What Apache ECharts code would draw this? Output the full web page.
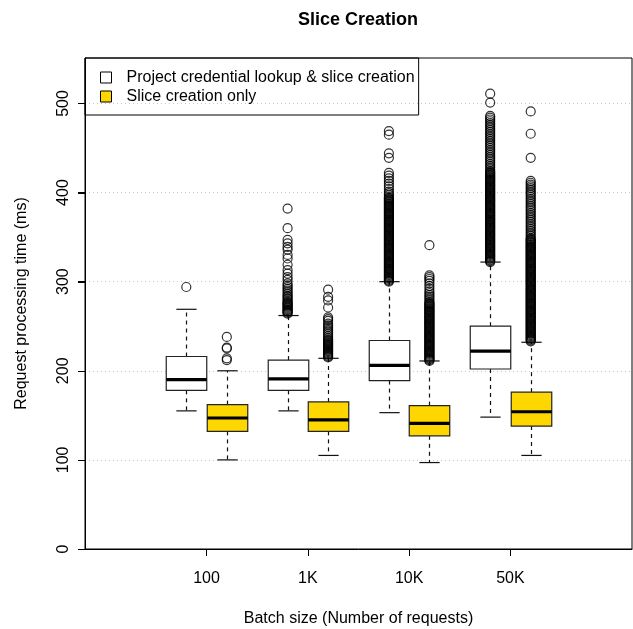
<!DOCTYPE html>
<html><head><meta charset="utf-8">
<script src="https://cdn.jsdelivr.net/npm/echarts@6/dist/echarts.min.js"></script>
<style>html,body{margin:0;padding:0;background:#fff}#c{width:633px;height:629px}</style>
</head><body><div id="c"></div><script>
// ---- data ----
const categories = ['100', '1K', '10K', '50K'];
const seriesNames = ['Project credential lookup & slice creation', 'Slice creation only'];
const yTicks = [0, 100, 200, 300, 400, 500];

// Project credential lookup & slice creation (white boxes)
const fullLow = [155, 155, 153, 148];
const fullQ1 = [178, 178, 189, 202];
const fullMedian = [190, 191, 206, 222];
const fullQ3 = [216, 212, 234, 250];
const fullHigh = [269, 262, 300, 322];

// Slice creation only (yellow boxes)
const sliceLow = [100, 105, 97, 105];
const sliceQ1 = [132, 132, 127, 138];
const sliceMedian = [147, 145, 141, 154];
const sliceQ3 = [162, 165, 161, 176];
const sliceHigh = [200, 214, 211, 232];

// outliers
const fullOut100 = [294];
const fullOut1K = [382,360,347,343,339,336,330,326,319,313,309,305,302,298,296,294,292,290,288,286,284,283,281,280,278,277,276,275,274,273,272,271,270,269,268,267,266,265,264];
const fullOut10K = [469,465,444,439,422,419,416,413,410,407,404,401,399,397,395,
394,393,392,391,390,389,388,387,386,385,384,383,382,381,380,379,378,377,376,375,374,373,372,371,370,
369,368,367,366,365,364,363,362,361,360,359,358,357,356,355,354,353,352,351,350,349,348,347,346,345,
344,343,342,341,340,339,338,337,336,335,334,333,332,331,330,329,328,327,326,325,324,323,322,321,320,
319,318,317,316,315,314,313,312,311,310,309,308,307,306,305,304,303,302,301,300];
const fullOut50K = [511,501,486,484,482,480,478,476,474,472,470,468,466,464,462,460,458,456,454,452,450,448,446,444,442,440,438,436,434,432,430,428,426,424,
423,422,421,420,419,418,417,416,415,414,413,412,411,410,409,408,407,406,405,404,403,402,401,400,
399,398,397,396,395,394,393,392,391,390,389,388,387,386,385,384,383,382,381,380,379,378,377,376,375,
374,373,372,371,370,369,368,367,366,365,364,363,362,361,360,359,358,357,356,355,354,353,352,351,350,
349,348,347,346,345,344,343,342,341,340,339,338,337,336,335,334,333,332,331,330,329,328,327,326,325,
324,323,322];
const sliceOut100 = [238, 226, 225, 214, 212];
const sliceOut1K = [291,283,279,271,260,258,256,253,251,249,247,245,243,241,239,237,235,234,233,232,231,230,229,228,227,226,225,224,223,222,221,220,219,218,217,216,215];
const sliceOut10K = [341,307,305,303,301,298,295,292,289,287,285,283,281,279,277,
276,275,274,273,272,271,270,269,268,267,266,265,264,263,262,261,260,259,258,257,256,255,254,253,252,
251,250,249,248,247,246,245,244,243,242,241,240,239,238,237,236,235,234,233,232,231,230,229,228,227,
226,225,224,223,222,221,220,219,218,217,216,215,214,213,212,211];
const sliceOut50K = [491,466,439,413,411,409,407,405,403,401,399,397,395,393,391,389,387,385,383,381,379,377,375,373,371,369,367,365,363,361,359,357,355,353,351,349,
348,347,346,345,344,343,342,341,340,339,338,337,336,335,334,333,332,331,330,329,328,327,326,325,
324,323,322,321,320,319,318,317,316,315,314,313,312,311,310,309,308,307,306,305,304,303,302,301,300,
299,298,297,296,295,294,293,292,291,290,289,288,287,286,285,284,283,282,281,280,279,278,277,276,275,
274,273,272,271,270,269,268,267,266,265,264,263,262,261,260,259,258,257,256,255,254,253,252,251,250,
249,248,247,246,245,244,243,242,241,240,239,238,237,236,235,234,233];

// ---- build ----
const FONT = '"Liberation Sans", Arial, Helvetica, sans-serif';
const X_MIN = -1.5, X_MAX = 12, Y_MAX = 551;
const groupCenter = i => 1.5 + 2.5 * i;
const tickPos = categories.map((c, i) => groupCenter(i));
const fullBoxes = categories.map((c, i) => [groupCenter(i) - 0.5, fullLow[i], fullQ1[i], fullMedian[i], fullQ3[i], fullHigh[i]]);
const sliceBoxes = categories.map((c, i) => [groupCenter(i) + 0.5, sliceLow[i], sliceQ1[i], sliceMedian[i], sliceQ3[i], sliceHigh[i]]);
const fullOut = [fullOut100, fullOut1K, fullOut10K, fullOut50K];
const sliceOut = [sliceOut100, sliceOut1K, sliceOut10K, sliceOut50K];
const outPts = [];
fullOut.forEach((arr, i) => arr.forEach(v => outPts.push([groupCenter(i) - 0.5, v])));
sliceOut.forEach((arr, i) => arr.forEach(v => outPts.push([groupCenter(i) + 0.5, v])));

function renderBox(params, api) {
  const x = api.value(0), lo = api.value(1), q1 = api.value(2), med = api.value(3), q3 = api.value(4), hi = api.value(5);
  const c = Math.round(api.coord([x, 0])[0]) + 0.5;
  const hw = (api.coord([x + 0.5, 0])[0] - api.coord([x - 0.5, 0])[0]) / 2;
  const y = v => api.coord([x, v])[1];
  const fill = api.visual('color');
  const dash = {stroke: '#111', lineWidth: 1.2, lineDash: [4, 4]};
  const solid = {stroke: '#111', lineWidth: 1.2};
  return {type: 'group', children: [
    {type: 'line', shape: {x1: c, y1: y(q3), x2: c, y2: y(hi)}, style: dash},
    {type: 'line', shape: {x1: c, y1: y(q1), x2: c, y2: y(lo)}, style: dash},
    {type: 'line', shape: {x1: c - hw / 2, y1: y(hi), x2: c + hw / 2, y2: y(hi)}, style: solid},
    {type: 'line', shape: {x1: c - hw / 2, y1: y(lo), x2: c + hw / 2, y2: y(lo)}, style: solid},
    {type: 'rect', shape: {x: c - hw, y: y(q3), width: 2 * hw, height: y(q1) - y(q3)}, style: {fill: fill, stroke: '#222', lineWidth: 1.2}},
    {type: 'line', shape: {x1: c - hw, y1: y(med), x2: c + hw, y2: y(med)}, style: {stroke: '#000', lineWidth: 3.2}}
  ]};
}

// y-axis tick marks (outside the left border), placed through the axis scale
function renderYTick(params, api) {
  const p = api.coord([api.value(0), api.value(1)]);
  const yy = Math.round(p[1]) + 0.5;
  return {type: 'line', shape: {x1: p[0] - 7, y1: yy, x2: p[0], y2: yy}, style: {stroke: '#000', lineWidth: 1}};
}

const chart = echarts.init(document.getElementById('c'), null, {renderer: 'canvas'});
chart.setOption({
  animation: false,
  backgroundColor: '#fff',
  textStyle: {fontFamily: FONT},
  title: {text: 'Slice Creation', left: 298, top: 11, padding: 0, textAlign: 'left',
    textStyle: {fontSize: 18, fontWeight: 'bold', color: '#000', fontFamily: FONT}},
  legend: {
    orient: 'vertical', left: 85, top: 58, padding: [10, 4, 9, 15], itemGap: 0,
    itemWidth: 11, itemHeight: 11, icon: 'rect', selectedMode: false,
    borderColor: '#000', borderWidth: 1, backgroundColor: 'transparent',
    textStyle: {fontSize: 16, color: '#000', lineHeight: 19, padding: [0, 0, 0, 10], fontFamily: FONT},
    data: [
      {name: seriesNames[0], itemStyle: {color: '#ffffff', borderColor: '#000', borderWidth: 1}},
      {name: seriesNames[1], itemStyle: {color: '#FFD700', borderColor: '#000', borderWidth: 1}}
    ]
  },
  grid: {left: 85, right: 1, top: 58, bottom: 80, show: true, borderColor: '#000', borderWidth: 1,
    backgroundColor: 'transparent', containLabel: false, outerBoundsMode: 'none'},
  xAxis: {
    type: 'value', min: X_MIN, max: X_MAX,
    splitLine: {show: false}, axisLine: {show: true, onZero: false, lineStyle: {color: '#000', width: 1}},
    axisTick: {show: true, inside: false, customValues: tickPos, length: 7, lineStyle: {color: '#000', width: 1}},
    axisLabel: {customValues: tickPos, formatter: v => categories[tickPos.indexOf(v)], fontSize: 16, color: '#000', margin: 22, fontFamily: FONT},
    name: 'Batch size (Number of requests)', nameLocation: 'middle', nameGap: 62,
    nameTextStyle: {fontSize: 16, color: '#000', fontFamily: FONT}
  },
  yAxis: {
    type: 'value', min: 0, max: Y_MAX, interval: 50,
    splitLine: {show: true, lineStyle: {color: '#c8c8c8', type: [1, 3], width: 1}},
    axisLine: {show: true, onZero: false, lineStyle: {color: '#000', width: 1}},
    axisTick: {show: true, inside: false, customValues: yTicks, length: 7, lineStyle: {color: '#000', width: 1}},
    axisLabel: {customValues: yTicks, rotate: 90, fontSize: 16, color: '#000', margin: 13, fontFamily: FONT},
    name: 'Request processing time (ms)', nameLocation: 'middle', nameGap: 55,
    nameTextStyle: {fontSize: 16, color: '#000', fontFamily: FONT}
  },
  series: [
    {name: seriesNames[0], type: 'custom', renderItem: renderBox, data: fullBoxes, itemStyle: {color: '#ffffff'}, encode: {x: 0, y: [1, 2, 3, 4, 5]}, z: 2, silent: true},
    {name: seriesNames[1], type: 'custom', renderItem: renderBox, data: sliceBoxes, itemStyle: {color: '#FFD700'}, encode: {x: 0, y: [1, 2, 3, 4, 5]}, z: 2, silent: true},
    {name: 'outliers', type: 'scatter', data: outPts, symbol: 'circle', symbolSize: 9, silent: true, z: 3,
      itemStyle: {color: 'rgba(0,0,0,0)', borderColor: '#000', borderWidth: 1.2}},
    {name: 'yTickMarks', type: 'custom', renderItem: renderYTick, data: yTicks.map(v => [X_MIN, v]), encode: {x: 0, y: 1}, clip: false, silent: true, z: 5}
  ]
});
</script></body></html>
